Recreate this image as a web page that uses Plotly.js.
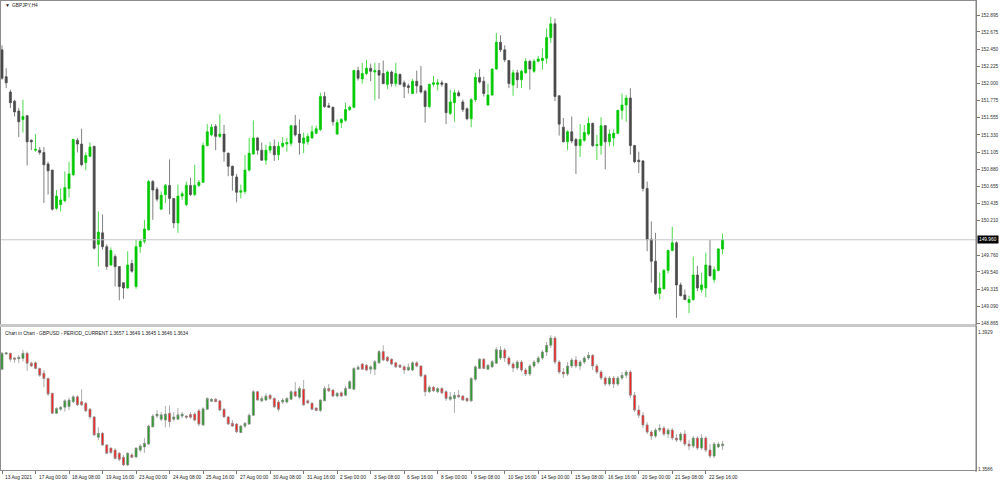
<!DOCTYPE html>
<html><head><meta charset="utf-8">
<script src="https://cdn.plot.ly/plotly-3.0.1.min.js"></script>
<style>html,body{margin:0;padding:0;background:#fff;}#chart{width:1005px;height:484px;}</style>
</head><body><div id="chart"></div>
<script>
// ---- GBPJPY H4 (main chart) ----
const gjOpen=[152.44,152.09,151.89,151.77,151.64,151.53,151.58,151.26,151.13,151.13,
151.10,150.95,150.87,150.37,150.42,150.47,150.63,150.81,151.26,151.21,
150.97,151.05,151.18,149.90,150.05,149.87,149.63,149.74,149.61,149.40,
149.33,149.65,149.35,149.87,149.94,150.09,150.72,150.62,150.36,150.55,
150.67,150.50,150.18,150.53,150.42,150.67,150.55,150.67,150.71,151.19,
151.33,151.44,151.31,151.34,151.09,150.92,150.78,150.58,150.59,150.87,
151.08,151.29,151.13,151.00,151.13,151.18,151.07,151.18,151.21,151.22,
151.45,151.34,151.22,151.24,151.29,151.35,151.40,151.83,151.71,151.69,
151.34,151.49,151.52,151.66,151.69,152.17,152.06,152.13,152.20,152.15,
152.17,152.13,151.99,152.15,152.00,152.12,152.01,151.97,151.87,152.03,
151.97,151.90,151.70,151.99,151.99,152.01,152.00,151.61,151.75,151.88,
151.76,151.67,151.54,151.79,152.08,152.03,151.72,151.85,152.19,152.54,
152.44,152.30,151.98,152.14,152.05,152.14,152.29,152.16,152.29,152.30,
152.33,152.60,152.78,151.84,151.43,151.24,151.37,151.27,151.19,151.26,
151.34,151.48,151.19,151.19,151.45,151.24,151.29,151.35,151.65,151.72,
151.81,151.19,151.00,150.99,150.63,149.97,149.68,149.26,149.32,149.56,
149.82,149.92,149.37,149.24,149.14,149.18,149.50,149.31,149.33,149.62,
149.44,149.56,149.84];
const gjHigh=[152.50,152.20,151.92,151.79,151.68,151.79,151.59,151.27,151.34,151.17,
151.17,150.98,150.87,150.61,150.63,150.85,150.98,151.28,151.29,151.41,
151.10,151.23,151.19,150.33,150.29,149.90,149.86,149.77,149.61,149.40,
149.81,149.70,149.96,149.97,150.22,150.74,150.74,150.65,150.59,150.69,
151.01,150.50,150.68,150.59,150.72,150.77,150.94,150.74,151.23,151.47,
151.47,151.47,151.60,151.46,151.10,150.93,150.82,150.68,151.07,151.29,
151.52,151.30,151.23,151.20,151.24,151.27,151.24,151.30,151.29,151.46,
151.59,151.53,151.36,151.35,151.45,151.45,151.88,151.89,151.75,151.70,
151.53,151.55,151.75,151.71,152.18,152.22,152.27,152.31,152.26,152.27,
152.27,152.30,152.17,152.17,152.27,152.13,152.04,152.00,152.06,152.17,
152.23,151.92,152.00,152.10,152.06,152.04,152.01,151.92,151.92,151.91,
151.79,151.69,151.81,152.14,152.19,152.09,152.00,152.20,152.66,152.63,
152.50,152.31,152.18,152.18,152.18,152.33,152.31,152.32,152.36,152.46,
152.72,152.87,152.85,151.85,151.55,151.39,151.57,151.29,151.47,151.46,
151.56,151.49,151.33,151.56,151.46,151.40,151.40,151.66,151.87,151.85,
151.94,151.20,151.11,151.00,150.72,150.20,150.05,149.53,149.58,149.83,
150.13,149.94,149.40,149.31,149.23,149.74,149.62,149.53,149.79,149.96,
149.61,149.85,150.04];
const gjLow=[152.05,151.94,151.68,151.57,151.30,151.36,150.93,151.13,151.11,151.07,
150.44,150.55,150.34,150.35,150.33,150.45,150.51,150.79,151.10,150.92,
150.87,151.04,149.83,149.61,149.83,149.57,149.62,149.35,149.17,149.19,
149.32,149.53,149.32,149.79,149.91,150.08,150.22,150.46,150.35,150.44,
150.29,150.11,150.05,150.48,150.40,150.53,150.53,150.65,150.70,151.18,
151.31,151.13,151.29,150.98,150.79,150.60,150.45,150.50,150.56,150.85,
151.07,151.07,150.99,150.94,151.09,150.99,151.00,151.16,151.11,151.18,
151.31,151.07,151.09,151.20,151.28,151.34,151.38,151.68,151.68,151.45,
151.33,151.42,151.50,151.64,151.68,152.04,152.00,152.11,152.03,151.78,
151.80,151.99,151.93,151.96,151.96,151.98,151.81,151.87,151.87,151.87,
151.87,151.49,151.68,151.96,151.91,151.96,151.47,151.59,151.50,151.83,
151.63,151.52,151.43,151.76,152.00,151.83,151.71,151.84,152.18,152.41,
152.28,151.94,151.84,151.94,151.94,152.13,151.92,152.14,152.28,152.18,
152.26,152.53,151.77,151.32,151.23,151.13,151.22,150.82,151.04,151.24,
151.32,151.17,151.00,151.07,150.88,151.18,151.18,151.34,151.53,151.50,
151.07,150.96,150.83,150.59,149.81,149.40,149.24,149.18,149.31,149.52,
149.81,148.94,149.22,149.17,149.00,149.16,149.29,149.27,149.21,149.48,
149.40,149.55,149.77];
const gjClose=[152.07,152.01,151.75,151.63,151.50,151.57,151.24,151.24,151.14,151.10,
150.94,150.86,150.36,150.53,150.48,150.64,150.82,151.27,151.21,150.94,
151.06,151.17,149.85,150.06,149.87,149.61,149.82,149.61,149.35,149.33,
149.63,149.55,149.87,149.94,150.10,150.72,150.61,150.49,150.54,150.67,
150.50,150.18,150.53,150.56,150.67,150.55,150.67,150.71,151.19,151.37,
151.43,151.31,151.34,151.11,150.92,150.80,150.58,150.60,150.87,151.09,
151.29,151.13,151.00,151.13,151.18,151.07,151.18,151.22,151.23,151.45,
151.33,151.23,151.29,151.31,151.37,151.41,151.83,151.70,151.69,151.50,
151.49,151.53,151.66,151.69,152.17,152.07,152.13,152.20,152.16,152.17,
152.11,152.00,152.15,152.00,152.13,151.99,151.96,151.95,152.03,151.97,
151.89,151.70,151.99,152.01,152.01,151.99,151.62,151.76,151.88,151.84,
151.66,151.54,151.79,152.08,152.02,151.87,151.85,152.19,152.54,152.44,
152.31,152.00,152.14,152.05,152.16,152.29,152.19,152.29,152.32,152.33,
152.60,152.78,151.83,151.47,151.24,151.37,151.25,151.19,151.27,151.36,
151.48,151.19,151.20,151.45,151.24,151.34,151.35,151.65,151.72,151.81,
151.19,150.98,150.98,150.63,149.96,149.68,149.26,149.33,149.56,149.82,
149.92,149.37,149.23,149.18,149.18,149.50,149.33,149.37,149.63,149.49,
149.57,149.84,149.96];

// ---- GBPUSD (chart in chart) ----
const guOpen=[1.3836,1.3874,1.3876,1.3864,1.3862,1.3863,1.3876,1.3851,1.3852,1.3838,
1.3826,1.3813,1.3776,1.3726,1.3736,1.3741,1.3743,1.3755,1.3767,1.3755,
1.3751,1.3736,1.3717,1.3666,1.3676,1.3647,1.3639,1.3634,1.3626,1.3616,
1.3597,1.3622,1.3617,1.3634,1.3642,1.3649,1.3692,1.3719,1.3711,1.3709,
1.3726,1.3711,1.3711,1.3719,1.3719,1.3723,1.3724,1.3732,1.3697,1.3736,
1.3756,1.3761,1.3757,1.3736,1.3717,1.3701,1.3699,1.3678,1.3694,1.3699,
1.3721,1.3780,1.3757,1.3759,1.3771,1.3763,1.3754,1.3754,1.3754,1.3761,
1.3780,1.3766,1.3786,1.3757,1.3751,1.3739,1.3733,1.3757,1.3788,1.3784,
1.3769,1.3777,1.3771,1.3788,1.3786,1.3836,1.3849,1.3846,1.3836,1.3836,
1.3852,1.3880,1.3866,1.3861,1.3852,1.3846,1.3842,1.3834,1.3834,1.3852,
1.3844,1.3821,1.3780,1.3791,1.3780,1.3788,1.3780,1.3761,1.3763,1.3771,
1.3769,1.3763,1.3757,1.3811,1.3838,1.3861,1.3836,1.3842,1.3851,
1.3864,1.3884,1.3864,1.3849,1.3839,1.3854,1.3834,1.3824,1.3844,1.3854,1.3864,
1.3879,1.3896,1.3914,1.3854,1.3829,1.3824,1.3844,1.3859,1.3844,1.3854,
1.3864,1.3871,1.3844,1.3829,1.3814,1.3799,1.3814,1.3799,1.3814,1.3821,
1.3829,1.3771,1.3734,1.3721,1.3697,1.3679,1.3669,1.3684,1.3689,1.3674,
1.3684,1.3664,1.3659,1.3674,1.3649,1.3644,1.3664,1.3639,1.3664,1.3634,
1.3619,1.3642,1.3645];
const guHigh=[1.3879,1.3878,1.3877,1.3867,1.3871,1.3884,1.3880,1.3855,1.3855,1.3840,
1.3834,1.3815,1.3777,1.3741,1.3744,1.3761,1.3765,1.3771,1.3771,1.3786,
1.3754,1.3739,1.3719,1.3691,1.3679,1.3649,1.3641,1.3639,1.3629,1.3622,
1.3629,1.3627,1.3641,1.3649,1.3664,1.3697,1.3724,1.3734,1.3729,1.3744,
1.3746,1.3729,1.3739,1.3729,1.3721,1.3729,1.3729,1.3737,1.3741,1.3766,
1.3764,1.3764,1.3759,1.3739,1.3719,1.3709,1.3702,1.3697,1.3704,1.3726,
1.3784,1.3782,1.3769,1.3776,1.3774,1.3766,1.3759,1.3764,1.3766,1.3784,
1.3804,1.3794,1.3809,1.3761,1.3754,1.3741,1.3761,1.3794,1.3799,1.3786,
1.3779,1.3781,1.3794,1.3809,1.3841,1.3846,1.3851,1.3849,1.3846,1.3859,
1.3884,1.3896,1.3869,1.3864,1.3854,1.3849,1.3846,1.3851,1.3856,1.3856,
1.3846,1.3824,1.3796,1.3794,1.3791,1.3791,1.3784,1.3779,1.3779,1.3784,
1.3771,1.3766,1.3816,1.3846,1.3864,1.3864,1.3849,1.3859,1.3891,
1.3894,1.3889,1.3869,1.3854,1.3859,1.3859,1.3839,1.3849,1.3859,1.3869,1.3884,
1.3904,1.3921,1.3919,1.3859,1.3839,1.3854,1.3864,1.3869,1.3859,1.3869,
1.3879,1.3874,1.3849,1.3834,1.3819,1.3819,1.3819,1.3819,1.3829,1.3834,
1.3834,1.3779,1.3746,1.3729,1.3704,1.3684,1.3689,1.3699,1.3694,1.3689,
1.3689,1.3674,1.3679,1.3684,1.3659,1.3669,1.3669,1.3674,1.3669,1.3649,
1.3654,1.3654,1.3657];
const guLow=[1.3834,1.3872,1.3855,1.3852,1.3851,1.3855,1.3832,1.3842,1.3836,1.3817,
1.3791,1.3769,1.3724,1.3724,1.3732,1.3730,1.3734,1.3751,1.3744,1.3744,
1.3729,1.3711,1.3669,1.3659,1.3644,1.3624,1.3624,1.3611,1.3606,1.3594,
1.3594,1.3614,1.3614,1.3629,1.3627,1.3647,1.3692,1.3714,1.3706,1.3691,
1.3691,1.3706,1.3709,1.3714,1.3712,1.3712,1.3706,1.3694,1.3694,1.3734,
1.3754,1.3754,1.3731,1.3714,1.3697,1.3692,1.3676,1.3676,1.3689,1.3697,
1.3719,1.3757,1.3754,1.3757,1.3759,1.3739,1.3731,1.3749,1.3751,1.3759,
1.3766,1.3761,1.3744,1.3749,1.3734,1.3731,1.3729,1.3757,1.3779,1.3766,
1.3766,1.3766,1.3769,1.3786,1.3784,1.3834,1.3834,1.3831,1.3824,1.3821,
1.3849,1.3856,1.3854,1.3846,1.3839,1.3839,1.3824,1.3831,1.3831,1.3841,
1.3816,1.3769,1.3776,1.3779,1.3776,1.3774,1.3757,1.3757,1.3727,1.3764,
1.3757,1.3754,1.3754,1.3806,1.3836,1.3836,1.3834,1.3839,1.3849,
1.3859,1.3854,1.3844,1.3829,1.3834,1.3829,1.3819,1.3819,1.3839,1.3849,1.3859,
1.3869,1.3889,1.3849,1.3824,1.3814,1.3819,1.3839,1.3839,1.3834,1.3849,
1.3859,1.3834,1.3824,1.3809,1.3794,1.3794,1.3789,1.3794,1.3809,1.3814,
1.3764,1.3729,1.3714,1.3689,1.3674,1.3659,1.3664,1.3679,1.3669,1.3664,
1.3659,1.3654,1.3654,1.3644,1.3634,1.3639,1.3634,1.3634,1.3629,1.3614,
1.3614,1.3639,1.3634];
const guClose=[1.3876,1.3877,1.3861,1.3861,1.3866,1.3876,1.3851,1.3844,1.3838,1.3821,
1.3813,1.3774,1.3726,1.3738,1.3741,1.3757,1.3759,1.3767,1.3747,1.3747,
1.3732,1.3717,1.3672,1.3676,1.3647,1.3626,1.3628,1.3613,1.3611,1.3597,
1.3626,1.3616,1.3639,1.3644,1.3651,1.3694,1.3719,1.3724,1.3722,1.3724,
1.3705,1.3717,1.3722,1.3724,1.3716,1.3716,1.3709,1.3699,1.3737,1.3763,
1.3761,1.3755,1.3734,1.3717,1.3699,1.3694,1.3680,1.3694,1.3701,1.3721,
1.3780,1.3759,1.3763,1.3769,1.3763,1.3742,1.3736,1.3759,1.3763,1.3780,
1.3769,1.3788,1.3747,1.3752,1.3736,1.3733,1.3759,1.3788,1.3782,1.3769,
1.3776,1.3769,1.3788,1.3805,1.3838,1.3841,1.3836,1.3834,1.3842,1.3855,
1.3880,1.3859,1.3857,1.3849,1.3842,1.3841,1.3834,1.3841,1.3852,1.3844,
1.3819,1.3780,1.3791,1.3782,1.3788,1.3777,1.3763,1.3767,1.3771,1.3767,
1.3759,1.3757,1.3813,1.3842,1.3861,1.3838,1.3846,1.3855,1.3885,
1.3884,1.3864,1.3849,1.3839,1.3854,1.3834,1.3824,1.3844,1.3854,1.3864,1.3879,
1.3896,1.3914,1.3854,1.3829,1.3824,1.3844,1.3859,1.3844,1.3854,1.3864,
1.3871,1.3844,1.3829,1.3814,1.3799,1.3814,1.3799,1.3814,1.3821,1.3829,
1.3771,1.3734,1.3721,1.3697,1.3679,1.3669,1.3684,1.3689,1.3674,1.3684,
1.3664,1.3659,1.3674,1.3649,1.3644,1.3664,1.3639,1.3664,1.3634,1.3619,
1.3649,1.3649,1.3649];

// ---- axis labels ----
const timeTickLabels=["13 Aug 2021","17 Aug 00:00","18 Aug 08:00","19 Aug 16:00","23 Aug 00:00","24 Aug 08:00",
"25 Aug 16:00","27 Aug 00:00","30 Aug 08:00","31 Aug 16:00","2 Sep 00:00","3 Sep 08:00","6 Sep 16:00",
"8 Sep 00:00","9 Sep 08:00","10 Sep 16:00","14 Sep 00:00","15 Sep 08:00","16 Sep 16:00","20 Sep 00:00",
"21 Sep 08:00","22 Sep 16:00"];
const barsPerTick=8;
const gjTickVals=[152.895,152.675,152.450,152.225,152.000,151.775,151.555,151.330,151.105,150.880,
150.655,150.435,150.210,149.760,149.540,149.315,149.090,148.865];
const guTickVals=[1.3929,1.3586];
const gjLast=149.960;
const lowerTitle="Chart in Chart - GBPUSD - PERIOD_CURRENT 1.3657 1.3649 1.3645 1.3646 1.3634";
const mainTitle="GBPJPY,H4";

// H4 bar times (weekdays only) starting 13 Aug 2021 16:00
const MON=["Jan","Feb","Mar","Apr","May","Jun","Jul","Aug","Sep","Oct","Nov","Dec"];
function barTimes(n){
  const out=[]; let t=Date.UTC(2021,7,13,16);
  while(out.length<n){const d=new Date(t);const wd=d.getUTCDay();
    if(wd!==0&&wd!==6){out.push(d.getUTCDate()+" "+MON[d.getUTCMonth()]+" "+String(d.getUTCHours()).padStart(2,"0")+":00");}
    t+=4*3600e3;}
  return out;
}
const times=barTimes(gjClose.length);
const tickCats=timeTickLabels.map((_,k)=>times[k*barsPerTick]);

const W=1005,H=484;
const xd=[1/W,976/W];
const yUp=[1-324/H,1-1/H];
const yLo=[1-470/H,1-327/H];
const F="Liberation Sans, Arial, sans-serif";
const FS=4.8;

const traces=[
 {type:'candlestick',x:times,open:gjOpen,high:gjHigh,low:gjLow,close:gjClose,xaxis:'x',yaxis:'y',
  increasing:{line:{color:'#00c800',width:0.7},fillcolor:'#00c800'},
  decreasing:{line:{color:'#4a4a4a',width:0.7},fillcolor:'#4a4a4a'},hoverinfo:'skip'},
 {type:'candlestick',x:times,open:guOpen,high:guHigh,low:guLow,close:guClose,xaxis:'x2',yaxis:'y2',
  increasing:{line:{color:'#8a8a8a',width:0.7},fillcolor:'#1e9e1e'},
  decreasing:{line:{color:'#8a8a8a',width:0.7},fillcolor:'#ff1c1c'},hoverinfo:'skip'}
];

const axCommon={showgrid:false,zeroline:false,showline:true,linecolor:'#8c8c8c',linewidth:1,mirror:true,fixedrange:true};
const annotations=[
 {xref:'paper',yref:'paper',x:3/W,y:1-5/H,text:'\u25BC',showarrow:false,xanchor:'left',yanchor:'middle',font:{family:F,size:5,color:'#222'}},
 {xref:'paper',yref:'paper',x:10/W,y:1-5/H,text:mainTitle,showarrow:false,xanchor:'left',yanchor:'middle',font:{family:F,size:FS,color:'#222'}},
 {xref:'paper',yref:'paper',x:3/W,y:1-333/H,text:lowerTitle,showarrow:false,xanchor:'left',yanchor:'middle',font:{family:F,size:FS,color:'#222'}},
 {xref:'paper',yref:'y',x:977/W,y:gjLast,text:gjLast.toFixed(3),showarrow:false,xanchor:'left',yanchor:'middle',
  bgcolor:'#000',borderpad:1,font:{family:F,size:FS,color:'#fff'}}
];
timeTickLabels.forEach((lab,k)=>{
  annotations.push({xref:'x2',yref:'paper',x:tickCats[k],y:1-477/H,text:lab,showarrow:false,xanchor:'left',yanchor:'middle',xshift:1,
    font:{family:F,size:FS,color:'#222'}});
});

const layout={
 width:W,height:H,margin:{l:0,r:0,t:0,b:0},paper_bgcolor:'#fff',plot_bgcolor:'#fff',showlegend:false,
 xaxis:Object.assign({},axCommon,{domain:xd,anchor:'y',type:'category',range:[-0.24,232.5],showticklabels:false,ticks:'',rangeslider:{visible:false}}),
 yaxis:Object.assign({},axCommon,{domain:yUp,anchor:'x',side:'right',range:[148.86,153.078],tickmode:'array',tickvals:gjTickVals,
   ticktext:gjTickVals.map(v=>v.toFixed(3)),ticks:'outside',ticklen:3,tickcolor:'#777',tickfont:{family:F,size:FS,color:'#333'}}),
 xaxis2:Object.assign({},axCommon,{domain:xd,anchor:'y2',type:'category',matches:'x',showticklabels:false,ticks:'outside',ticklen:3,tickcolor:'#777',
   tickmode:'array',tickvals:tickCats,rangeslider:{visible:false}}),
 yaxis2:Object.assign({},axCommon,{domain:yLo,anchor:'x2',side:'right',range:[1.35843,1.39415],tickmode:'array',tickvals:guTickVals,
   ticktext:guTickVals.map(v=>v.toFixed(4)),ticks:'',tickfont:{family:F,size:FS,color:'#333'}}),
 shapes:[
  {type:'line',xref:'paper',yref:'y',x0:xd[0],x1:xd[1],y0:gjLast,y1:gjLast,line:{color:'#c4c8cc',width:1}},
  {type:'rect',xref:'paper',yref:'paper',x0:0,x1:976/W,y0:1-327/H,y1:1-324/H,fillcolor:'#c8c8c8',line:{width:0}},
  {type:'line',xref:'paper',yref:'paper',x0:976/W,x1:976/W,y0:1-472/H,y1:1,line:{color:'#808080',width:1}}
 ],
 annotations:annotations
};
Plotly.newPlot('chart',traces,layout,{staticPlot:true,displayModeBar:false});
</script></body></html>
